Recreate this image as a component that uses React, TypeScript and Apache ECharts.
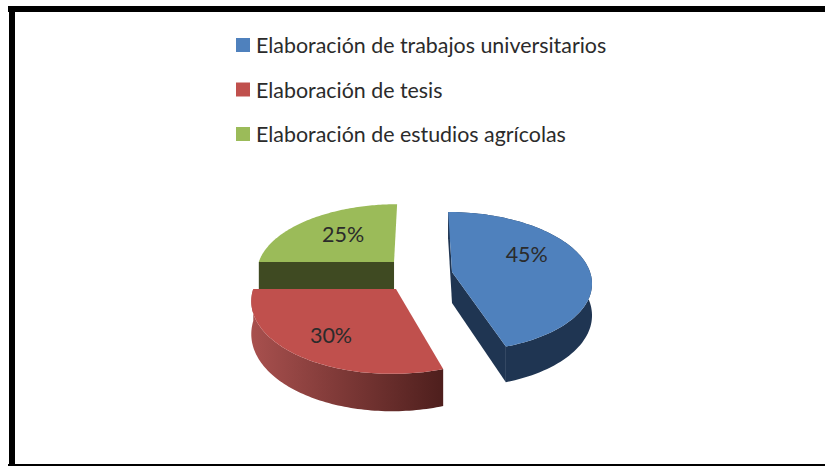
import React, { useEffect, useRef } from "react";
import * as echarts from "echarts";

const names = [
  "Elaboración de trabajos universitarios",
  "Elaboración de tesis",
  "Elaboración de estudios agrícolas",
];
const values = [45, 30, 25];
const topColors = ["#4F81BD", "#C0504D", "#9BBB59"];
const wallColors = ["#1F3552", "#7A2F2D", "#3F4A22"];

const FONT = "Lato, 'Open Sans', sans-serif";
// Projective plane of the pie
const VX = 420, HY = 272, A = 138, B = 68.2, K = 0.137, DEPTH = 31;
// Per-slice explosion offsets in plane units, and label placement
const offsets = [[0.232, 0], [-0.1685, -0.24], [-0.192, 0.15]];
const labelRadius = [0.55, 0.7, 0.6];
const labelShift = [[1, -12], [1, 1], [2, -2]];
const zOrder = [4, 3, 2];

const project = (wx: number, wy: number, h = 0) => {
  const w = 1 + K * wy;
  return [VX + (A * wx) / w, HY - (B * wy) / w + (h * DEPTH) / w];
};

const total = values.reduce((a, b) => a + b, 0);
const startFrac = values.map((_, i) => values.slice(0, i).reduce((a, b) => a + b, 0) / total);

function sliceItem(i: number, value: number) {
  const a0 = startFrac[i] * 2 * Math.PI;
  const a1 = a0 + (value / total) * 2 * Math.PI;
  const [ox, oy] = offsets[i];
  const rim = (t: number, h = 0) => project(ox + Math.sin(t), oy + Math.cos(t), h);
  const N = 90;
  const arc = (from: number, to: number, h = 0) => {
    const pts: number[][] = [];
    for (let k = 0; k <= N; k++) pts.push(rim(from + ((to - from) * k) / N, h));
    return pts;
  };
  const apex = project(ox, oy);
  const apexLow = project(ox, oy, 1);
  const children: any[] = [];
  const poly = (points: number[][], fill: any) => ({
    type: "polygon",
    shape: { points },
    style: { fill, stroke: null },
  });
  if (i === 0) {
    // left cut faces and outer wall of the pulled-out slice
    children.push(poly([rim(a0), apex, apexLow, rim(a0, 1)], wallColors[0]));
    children.push(poly([apex, rim(a1), rim(a1, 1), apexLow], wallColors[0]));
    children.push(poly([...arc(a0, a1), ...arc(a1, a0, 1)], wallColors[0]));
  } else if (i === 1) {
    const grad = new echarts.graphic.LinearGradient(1, 0, 0, 0, [
      { offset: 0, color: "#4E1F1D" },
      { offset: 1, color: "#A8504E" },
    ]);
    children.push(poly([...arc(a0, a1), ...arc(a1, a0, 1)], grad));
  } else {
    children.push(poly([rim(a0), apex, apexLow, rim(a0, 1)], wallColors[2]));
  }
  children.push(poly([apex, ...arc(a0, a1)], topColors[i]));
  const mid = (a0 + a1) / 2;
  const r = labelRadius[i];
  const [lx, ly] = project(ox + r * Math.sin(mid), oy + r * Math.cos(mid));
  children.push({
    type: "text",
    x: lx + labelShift[i][0],
    y: ly + labelShift[i][1],
    style: {
      text: `${value}%`,
      fill: "#2b2b2b",
      font: `21.5px ${FONT}`,
      align: "center",
      verticalAlign: "middle",
    },
  });
  return { type: "group", children };
}

export default function App() {
  const ref = useRef<HTMLDivElement>(null);
  useEffect(() => {
    const chart = echarts.init(ref.current!, null, { renderer: "svg" });
    chart.setOption({
      animation: false,
      backgroundColor: "#fff",
      legend: {
        orient: "vertical",
        left: 231,
        top: 29.5,
        itemWidth: 14,
        itemHeight: 14,
        itemGap: 23.5,
        icon: "rect",
        data: names,
        selectedMode: false,
        textStyle: { fontFamily: FONT, fontSize: 21.4, color: "#2b2b2b", padding: [0, 0, 0, 1] },
      },
      graphic: [
        { type: "rect", shape: { x: 8, y: 6, width: 817, height: 6 }, style: { fill: "#000" } },
        { type: "rect", shape: { x: 9, y: 6, width: 6, height: 460 }, style: { fill: "#000" } },
        { type: "rect", shape: { x: 8, y: 464, width: 817, height: 2 }, style: { fill: "#000" } },
      ],
      series: values.map((v, i) => ({
        type: "custom",
        coordinateSystem: "none",
        name: names[i],
        z: zOrder[i],
        itemStyle: { color: topColors[i] },
        data: [[v]],
        renderItem: (_: any, api: any) => sliceItem(i, api.value(0)),
      })),
    });
    return () => chart.dispose();
  }, []);
  return <div ref={ref} style={{ position: "fixed", left: 0, top: 0, width: 825, height: 466 }} />;
}
